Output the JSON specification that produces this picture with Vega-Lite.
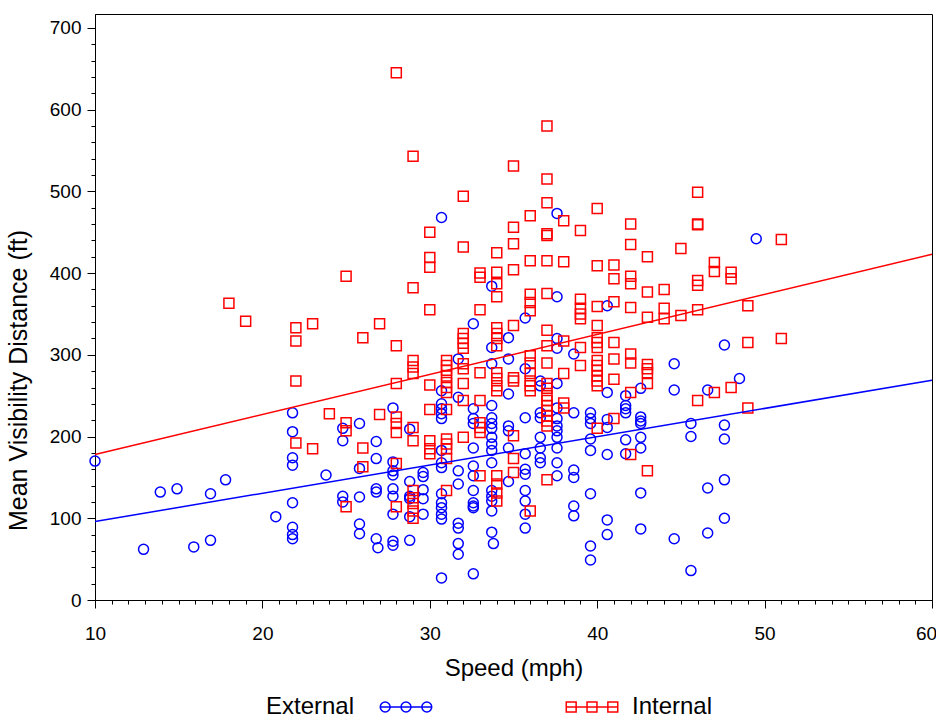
{
  "$schema": "https://vega.github.io/schema/vega-lite/v6.json",
  "width": 837,
  "height": 586,
  "autosize": {"type": "none"},
  "padding": {"left": 95, "top": 14, "right": 4, "bottom": 117},
  "background": "white",
  "datasets": {
    "fit": [
      {"Location": "External", "Speed": 10, "Distance": 96},
      {"Location": "External", "Speed": 60, "Distance": 269},
      {"Location": "Internal", "Speed": 10, "Distance": 178},
      {"Location": "Internal", "Speed": 60, "Distance": 423}
    ],
    "pts": [
      {"Location":"External","Speed":10.0,"Distance":170},
      {"Location":"External","Speed":12.9,"Distance":62},
      {"Location":"External","Speed":13.9,"Distance":132},
      {"Location":"External","Speed":14.9,"Distance":136},
      {"Location":"External","Speed":15.9,"Distance":65},
      {"Location":"External","Speed":16.9,"Distance":130},
      {"Location":"External","Speed":16.9,"Distance":73},
      {"Location":"External","Speed":17.8,"Distance":147},
      {"Location":"External","Speed":20.8,"Distance":102},
      {"Location":"External","Speed":21.8,"Distance":229},
      {"Location":"External","Speed":21.8,"Distance":206},
      {"Location":"External","Speed":21.8,"Distance":174},
      {"Location":"External","Speed":21.8,"Distance":165},
      {"Location":"External","Speed":21.8,"Distance":119},
      {"Location":"External","Speed":21.8,"Distance":89},
      {"Location":"External","Speed":21.8,"Distance":80},
      {"Location":"External","Speed":21.8,"Distance":75},
      {"Location":"External","Speed":23.8,"Distance":153},
      {"Location":"External","Speed":24.8,"Distance":210},
      {"Location":"External","Speed":24.8,"Distance":195},
      {"Location":"External","Speed":24.8,"Distance":127},
      {"Location":"External","Speed":24.8,"Distance":120},
      {"Location":"External","Speed":25.8,"Distance":216},
      {"Location":"External","Speed":25.8,"Distance":161},
      {"Location":"External","Speed":25.8,"Distance":126},
      {"Location":"External","Speed":25.8,"Distance":93},
      {"Location":"External","Speed":25.8,"Distance":81},
      {"Location":"External","Speed":26.8,"Distance":194},
      {"Location":"External","Speed":26.8,"Distance":173},
      {"Location":"External","Speed":26.8,"Distance":136},
      {"Location":"External","Speed":26.8,"Distance":132},
      {"Location":"External","Speed":26.8,"Distance":75},
      {"Location":"External","Speed":26.9,"Distance":64},
      {"Location":"External","Speed":27.8,"Distance":235},
      {"Location":"External","Speed":27.8,"Distance":169},
      {"Location":"External","Speed":27.8,"Distance":158},
      {"Location":"External","Speed":27.8,"Distance":153},
      {"Location":"External","Speed":27.8,"Distance":136},
      {"Location":"External","Speed":27.8,"Distance":127},
      {"Location":"External","Speed":27.8,"Distance":105},
      {"Location":"External","Speed":27.8,"Distance":72},
      {"Location":"External","Speed":27.8,"Distance":67},
      {"Location":"External","Speed":28.8,"Distance":209},
      {"Location":"External","Speed":28.8,"Distance":145},
      {"Location":"External","Speed":28.8,"Distance":127},
      {"Location":"External","Speed":28.8,"Distance":124},
      {"Location":"External","Speed":28.8,"Distance":102},
      {"Location":"External","Speed":28.8,"Distance":73},
      {"Location":"External","Speed":29.6,"Distance":156},
      {"Location":"External","Speed":29.6,"Distance":151},
      {"Location":"External","Speed":29.6,"Distance":135},
      {"Location":"External","Speed":29.6,"Distance":124},
      {"Location":"External","Speed":29.6,"Distance":105},
      {"Location":"External","Speed":30.7,"Distance":468},
      {"Location":"External","Speed":30.7,"Distance":256},
      {"Location":"External","Speed":30.7,"Distance":240},
      {"Location":"External","Speed":30.7,"Distance":234},
      {"Location":"External","Speed":30.7,"Distance":228},
      {"Location":"External","Speed":30.7,"Distance":222},
      {"Location":"External","Speed":30.7,"Distance":183},
      {"Location":"External","Speed":30.7,"Distance":168},
      {"Location":"External","Speed":30.7,"Distance":162},
      {"Location":"External","Speed":30.7,"Distance":130},
      {"Location":"External","Speed":30.7,"Distance":119},
      {"Location":"External","Speed":30.7,"Distance":113},
      {"Location":"External","Speed":30.7,"Distance":105},
      {"Location":"External","Speed":30.7,"Distance":99},
      {"Location":"External","Speed":30.7,"Distance":27},
      {"Location":"External","Speed":31.7,"Distance":295},
      {"Location":"External","Speed":31.7,"Distance":248},
      {"Location":"External","Speed":31.7,"Distance":158},
      {"Location":"External","Speed":31.7,"Distance":142},
      {"Location":"External","Speed":31.7,"Distance":94},
      {"Location":"External","Speed":31.7,"Distance":88},
      {"Location":"External","Speed":31.7,"Distance":69},
      {"Location":"External","Speed":31.7,"Distance":56},
      {"Location":"External","Speed":32.6,"Distance":338},
      {"Location":"External","Speed":32.6,"Distance":234},
      {"Location":"External","Speed":32.6,"Distance":222},
      {"Location":"External","Speed":32.6,"Distance":216},
      {"Location":"External","Speed":32.6,"Distance":186},
      {"Location":"External","Speed":32.6,"Distance":164},
      {"Location":"External","Speed":32.6,"Distance":152},
      {"Location":"External","Speed":32.6,"Distance":134},
      {"Location":"External","Speed":32.6,"Distance":119},
      {"Location":"External","Speed":32.6,"Distance":115},
      {"Location":"External","Speed":32.6,"Distance":113},
      {"Location":"External","Speed":32.6,"Distance":32},
      {"Location":"External","Speed":33.7,"Distance":384},
      {"Location":"External","Speed":33.7,"Distance":309},
      {"Location":"External","Speed":33.7,"Distance":289},
      {"Location":"External","Speed":33.7,"Distance":238},
      {"Location":"External","Speed":33.7,"Distance":223},
      {"Location":"External","Speed":33.7,"Distance":216},
      {"Location":"External","Speed":33.7,"Distance":210},
      {"Location":"External","Speed":33.7,"Distance":199},
      {"Location":"External","Speed":33.7,"Distance":191},
      {"Location":"External","Speed":33.7,"Distance":183},
      {"Location":"External","Speed":33.7,"Distance":168},
      {"Location":"External","Speed":33.7,"Distance":134},
      {"Location":"External","Speed":33.7,"Distance":127},
      {"Location":"External","Speed":33.7,"Distance":121},
      {"Location":"External","Speed":33.7,"Distance":109},
      {"Location":"External","Speed":33.7,"Distance":83},
      {"Location":"External","Speed":33.8,"Distance":69},
      {"Location":"External","Speed":34.7,"Distance":321},
      {"Location":"External","Speed":34.7,"Distance":295},
      {"Location":"External","Speed":34.7,"Distance":252},
      {"Location":"External","Speed":34.7,"Distance":213},
      {"Location":"External","Speed":34.7,"Distance":207},
      {"Location":"External","Speed":34.7,"Distance":186},
      {"Location":"External","Speed":34.7,"Distance":145},
      {"Location":"External","Speed":35.7,"Distance":345},
      {"Location":"External","Speed":35.7,"Distance":283},
      {"Location":"External","Speed":35.7,"Distance":223},
      {"Location":"External","Speed":35.7,"Distance":179},
      {"Location":"External","Speed":35.7,"Distance":160},
      {"Location":"External","Speed":35.7,"Distance":154},
      {"Location":"External","Speed":35.7,"Distance":134},
      {"Location":"External","Speed":35.7,"Distance":121},
      {"Location":"External","Speed":35.7,"Distance":105},
      {"Location":"External","Speed":35.7,"Distance":88},
      {"Location":"External","Speed":36.6,"Distance":268},
      {"Location":"External","Speed":36.6,"Distance":262},
      {"Location":"External","Speed":36.6,"Distance":229},
      {"Location":"External","Speed":36.6,"Distance":223},
      {"Location":"External","Speed":36.6,"Distance":199},
      {"Location":"External","Speed":36.6,"Distance":186},
      {"Location":"External","Speed":36.6,"Distance":174},
      {"Location":"External","Speed":36.6,"Distance":168},
      {"Location":"External","Speed":37.6,"Distance":473},
      {"Location":"External","Speed":37.6,"Distance":371},
      {"Location":"External","Speed":37.6,"Distance":320},
      {"Location":"External","Speed":37.6,"Distance":308},
      {"Location":"External","Speed":37.6,"Distance":265},
      {"Location":"External","Speed":37.6,"Distance":235},
      {"Location":"External","Speed":37.6,"Distance":222},
      {"Location":"External","Speed":37.6,"Distance":213},
      {"Location":"External","Speed":37.6,"Distance":207},
      {"Location":"External","Speed":37.6,"Distance":199},
      {"Location":"External","Speed":37.6,"Distance":186},
      {"Location":"External","Speed":37.6,"Distance":168},
      {"Location":"External","Speed":37.6,"Distance":152},
      {"Location":"External","Speed":38.6,"Distance":301},
      {"Location":"External","Speed":38.6,"Distance":229},
      {"Location":"External","Speed":38.6,"Distance":159},
      {"Location":"External","Speed":38.6,"Distance":150},
      {"Location":"External","Speed":38.6,"Distance":115},
      {"Location":"External","Speed":38.6,"Distance":103},
      {"Location":"External","Speed":39.6,"Distance":229},
      {"Location":"External","Speed":39.6,"Distance":222},
      {"Location":"External","Speed":39.6,"Distance":216},
      {"Location":"External","Speed":39.6,"Distance":197},
      {"Location":"External","Speed":39.6,"Distance":183},
      {"Location":"External","Speed":39.6,"Distance":130},
      {"Location":"External","Speed":39.6,"Distance":66},
      {"Location":"External","Speed":39.6,"Distance":49},
      {"Location":"External","Speed":40.6,"Distance":360},
      {"Location":"External","Speed":40.6,"Distance":254},
      {"Location":"External","Speed":40.6,"Distance":221},
      {"Location":"External","Speed":40.6,"Distance":211},
      {"Location":"External","Speed":40.6,"Distance":178},
      {"Location":"External","Speed":40.6,"Distance":98},
      {"Location":"External","Speed":40.6,"Distance":80},
      {"Location":"External","Speed":41.7,"Distance":250},
      {"Location":"External","Speed":41.7,"Distance":238},
      {"Location":"External","Speed":41.7,"Distance":234},
      {"Location":"External","Speed":41.7,"Distance":229},
      {"Location":"External","Speed":41.7,"Distance":196},
      {"Location":"External","Speed":41.7,"Distance":179},
      {"Location":"External","Speed":42.6,"Distance":259},
      {"Location":"External","Speed":42.6,"Distance":224},
      {"Location":"External","Speed":42.6,"Distance":219},
      {"Location":"External","Speed":42.6,"Distance":216},
      {"Location":"External","Speed":42.6,"Distance":199},
      {"Location":"External","Speed":42.6,"Distance":186},
      {"Location":"External","Speed":42.6,"Distance":131},
      {"Location":"External","Speed":42.6,"Distance":87},
      {"Location":"External","Speed":44.6,"Distance":289},
      {"Location":"External","Speed":44.6,"Distance":257},
      {"Location":"External","Speed":44.6,"Distance":75},
      {"Location":"External","Speed":45.6,"Distance":216},
      {"Location":"External","Speed":45.6,"Distance":200},
      {"Location":"External","Speed":45.6,"Distance":36},
      {"Location":"External","Speed":46.6,"Distance":257},
      {"Location":"External","Speed":46.6,"Distance":137},
      {"Location":"External","Speed":46.6,"Distance":82},
      {"Location":"External","Speed":47.6,"Distance":312},
      {"Location":"External","Speed":47.6,"Distance":214},
      {"Location":"External","Speed":47.6,"Distance":197},
      {"Location":"External","Speed":47.6,"Distance":147},
      {"Location":"External","Speed":47.6,"Distance":100},
      {"Location":"External","Speed":48.5,"Distance":271},
      {"Location":"External","Speed":49.5,"Distance":442},
      {"Location":"Internal","Speed":18,"Distance":363},
      {"Location":"Internal","Speed":19,"Distance":341},
      {"Location":"Internal","Speed":22,"Distance":333},
      {"Location":"Internal","Speed":22,"Distance":317},
      {"Location":"Internal","Speed":22,"Distance":268},
      {"Location":"Internal","Speed":22,"Distance":192},
      {"Location":"Internal","Speed":23,"Distance":338},
      {"Location":"Internal","Speed":23,"Distance":185},
      {"Location":"Internal","Speed":24,"Distance":228},
      {"Location":"Internal","Speed":25,"Distance":396},
      {"Location":"Internal","Speed":25,"Distance":217},
      {"Location":"Internal","Speed":25,"Distance":207},
      {"Location":"Internal","Speed":25,"Distance":114},
      {"Location":"Internal","Speed":26,"Distance":321},
      {"Location":"Internal","Speed":26,"Distance":186},
      {"Location":"Internal","Speed":26,"Distance":163},
      {"Location":"Internal","Speed":27,"Distance":338},
      {"Location":"Internal","Speed":27,"Distance":227},
      {"Location":"Internal","Speed":28,"Distance":645},
      {"Location":"Internal","Speed":28,"Distance":311},
      {"Location":"Internal","Speed":28,"Distance":265},
      {"Location":"Internal","Speed":28,"Distance":224},
      {"Location":"Internal","Speed":28,"Distance":216},
      {"Location":"Internal","Speed":28,"Distance":205},
      {"Location":"Internal","Speed":28,"Distance":167},
      {"Location":"Internal","Speed":28,"Distance":114},
      {"Location":"Internal","Speed":29,"Distance":543},
      {"Location":"Internal","Speed":29,"Distance":382},
      {"Location":"Internal","Speed":29,"Distance":293},
      {"Location":"Internal","Speed":29,"Distance":285},
      {"Location":"Internal","Speed":29,"Distance":277},
      {"Location":"Internal","Speed":29,"Distance":211},
      {"Location":"Internal","Speed":29,"Distance":195},
      {"Location":"Internal","Speed":29,"Distance":134},
      {"Location":"Internal","Speed":29,"Distance":125},
      {"Location":"Internal","Speed":29,"Distance":118},
      {"Location":"Internal","Speed":29,"Distance":109},
      {"Location":"Internal","Speed":29,"Distance":100},
      {"Location":"Internal","Speed":30,"Distance":450},
      {"Location":"Internal","Speed":30,"Distance":419},
      {"Location":"Internal","Speed":30,"Distance":407},
      {"Location":"Internal","Speed":30,"Distance":355},
      {"Location":"Internal","Speed":30,"Distance":263},
      {"Location":"Internal","Speed":30,"Distance":233},
      {"Location":"Internal","Speed":30,"Distance":195},
      {"Location":"Internal","Speed":30,"Distance":185},
      {"Location":"Internal","Speed":30,"Distance":179},
      {"Location":"Internal","Speed":31,"Distance":293},
      {"Location":"Internal","Speed":31,"Distance":287},
      {"Location":"Internal","Speed":31,"Distance":281},
      {"Location":"Internal","Speed":31,"Distance":274},
      {"Location":"Internal","Speed":31,"Distance":266},
      {"Location":"Internal","Speed":31,"Distance":260},
      {"Location":"Internal","Speed":31,"Distance":254},
      {"Location":"Internal","Speed":31,"Distance":233},
      {"Location":"Internal","Speed":31,"Distance":197},
      {"Location":"Internal","Speed":31,"Distance":191},
      {"Location":"Internal","Speed":31,"Distance":185},
      {"Location":"Internal","Speed":31,"Distance":173},
      {"Location":"Internal","Speed":31,"Distance":134},
      {"Location":"Internal","Speed":32,"Distance":494},
      {"Location":"Internal","Speed":32,"Distance":432},
      {"Location":"Internal","Speed":32,"Distance":326},
      {"Location":"Internal","Speed":32,"Distance":320},
      {"Location":"Internal","Speed":32,"Distance":314},
      {"Location":"Internal","Speed":32,"Distance":308},
      {"Location":"Internal","Speed":32,"Distance":289},
      {"Location":"Internal","Speed":32,"Distance":283},
      {"Location":"Internal","Speed":32,"Distance":265},
      {"Location":"Internal","Speed":32,"Distance":244},
      {"Location":"Internal","Speed":32,"Distance":199},
      {"Location":"Internal","Speed":33,"Distance":400},
      {"Location":"Internal","Speed":33,"Distance":395},
      {"Location":"Internal","Speed":33,"Distance":355},
      {"Location":"Internal","Speed":33,"Distance":278},
      {"Location":"Internal","Speed":33,"Distance":244},
      {"Location":"Internal","Speed":33,"Distance":217},
      {"Location":"Internal","Speed":33,"Distance":211},
      {"Location":"Internal","Speed":33,"Distance":205},
      {"Location":"Internal","Speed":33,"Distance":152},
      {"Location":"Internal","Speed":34,"Distance":425},
      {"Location":"Internal","Speed":34,"Distance":401},
      {"Location":"Internal","Speed":34,"Distance":387},
      {"Location":"Internal","Speed":34,"Distance":371},
      {"Location":"Internal","Speed":34,"Distance":333},
      {"Location":"Internal","Speed":34,"Distance":326},
      {"Location":"Internal","Speed":34,"Distance":320},
      {"Location":"Internal","Speed":34,"Distance":311},
      {"Location":"Internal","Speed":34,"Distance":278},
      {"Location":"Internal","Speed":34,"Distance":271},
      {"Location":"Internal","Speed":34,"Distance":262},
      {"Location":"Internal","Speed":34,"Distance":256},
      {"Location":"Internal","Speed":34,"Distance":152},
      {"Location":"Internal","Speed":34,"Distance":142},
      {"Location":"Internal","Speed":34,"Distance":131},
      {"Location":"Internal","Speed":34,"Distance":121},
      {"Location":"Internal","Speed":35,"Distance":531},
      {"Location":"Internal","Speed":35,"Distance":456},
      {"Location":"Internal","Speed":35,"Distance":436},
      {"Location":"Internal","Speed":35,"Distance":404},
      {"Location":"Internal","Speed":35,"Distance":336},
      {"Location":"Internal","Speed":35,"Distance":272},
      {"Location":"Internal","Speed":35,"Distance":268},
      {"Location":"Internal","Speed":35,"Distance":201},
      {"Location":"Internal","Speed":35,"Distance":173},
      {"Location":"Internal","Speed":35,"Distance":156},
      {"Location":"Internal","Speed":36,"Distance":470},
      {"Location":"Internal","Speed":36,"Distance":415},
      {"Location":"Internal","Speed":36,"Distance":374},
      {"Location":"Internal","Speed":36,"Distance":364},
      {"Location":"Internal","Speed":36,"Distance":354},
      {"Location":"Internal","Speed":36,"Distance":299},
      {"Location":"Internal","Speed":36,"Distance":290},
      {"Location":"Internal","Speed":36,"Distance":277},
      {"Location":"Internal","Speed":36,"Distance":268},
      {"Location":"Internal","Speed":36,"Distance":262},
      {"Location":"Internal","Speed":36,"Distance":256},
      {"Location":"Internal","Speed":36,"Distance":109},
      {"Location":"Internal","Speed":37,"Distance":580},
      {"Location":"Internal","Speed":37,"Distance":515},
      {"Location":"Internal","Speed":37,"Distance":486},
      {"Location":"Internal","Speed":37,"Distance":448},
      {"Location":"Internal","Speed":37,"Distance":446},
      {"Location":"Internal","Speed":37,"Distance":415},
      {"Location":"Internal","Speed":37,"Distance":375},
      {"Location":"Internal","Speed":37,"Distance":330},
      {"Location":"Internal","Speed":37,"Distance":311},
      {"Location":"Internal","Speed":37,"Distance":290},
      {"Location":"Internal","Speed":37,"Distance":265},
      {"Location":"Internal","Speed":37,"Distance":259},
      {"Location":"Internal","Speed":37,"Distance":250},
      {"Location":"Internal","Speed":37,"Distance":244},
      {"Location":"Internal","Speed":37,"Distance":238},
      {"Location":"Internal","Speed":37,"Distance":232},
      {"Location":"Internal","Speed":37,"Distance":225},
      {"Location":"Internal","Speed":37,"Distance":219},
      {"Location":"Internal","Speed":37,"Distance":213},
      {"Location":"Internal","Speed":37,"Distance":147},
      {"Location":"Internal","Speed":38,"Distance":464},
      {"Location":"Internal","Speed":38,"Distance":414},
      {"Location":"Internal","Speed":38,"Distance":317},
      {"Location":"Internal","Speed":38,"Distance":277},
      {"Location":"Internal","Speed":38,"Distance":241},
      {"Location":"Internal","Speed":38,"Distance":235},
      {"Location":"Internal","Speed":39,"Distance":452},
      {"Location":"Internal","Speed":39,"Distance":368},
      {"Location":"Internal","Speed":39,"Distance":357},
      {"Location":"Internal","Speed":39,"Distance":350},
      {"Location":"Internal","Speed":39,"Distance":344},
      {"Location":"Internal","Speed":39,"Distance":309},
      {"Location":"Internal","Speed":39,"Distance":287},
      {"Location":"Internal","Speed":40,"Distance":479},
      {"Location":"Internal","Speed":40,"Distance":409},
      {"Location":"Internal","Speed":40,"Distance":359},
      {"Location":"Internal","Speed":40,"Distance":336},
      {"Location":"Internal","Speed":40,"Distance":321},
      {"Location":"Internal","Speed":40,"Distance":315},
      {"Location":"Internal","Speed":40,"Distance":309},
      {"Location":"Internal","Speed":40,"Distance":293},
      {"Location":"Internal","Speed":40,"Distance":287},
      {"Location":"Internal","Speed":40,"Distance":281},
      {"Location":"Internal","Speed":40,"Distance":274},
      {"Location":"Internal","Speed":40,"Distance":268},
      {"Location":"Internal","Speed":40,"Distance":262},
      {"Location":"Internal","Speed":40,"Distance":210},
      {"Location":"Internal","Speed":41,"Distance":410},
      {"Location":"Internal","Speed":41,"Distance":393},
      {"Location":"Internal","Speed":41,"Distance":365},
      {"Location":"Internal","Speed":41,"Distance":315},
      {"Location":"Internal","Speed":41,"Distance":295},
      {"Location":"Internal","Speed":41,"Distance":270},
      {"Location":"Internal","Speed":41,"Distance":222},
      {"Location":"Internal","Speed":42,"Distance":460},
      {"Location":"Internal","Speed":42,"Distance":435},
      {"Location":"Internal","Speed":42,"Distance":396},
      {"Location":"Internal","Speed":42,"Distance":387},
      {"Location":"Internal","Speed":42,"Distance":358},
      {"Location":"Internal","Speed":42,"Distance":301},
      {"Location":"Internal","Speed":42,"Distance":290},
      {"Location":"Internal","Speed":42,"Distance":254},
      {"Location":"Internal","Speed":42,"Distance":178},
      {"Location":"Internal","Speed":43,"Distance":420},
      {"Location":"Internal","Speed":43,"Distance":377},
      {"Location":"Internal","Speed":43,"Distance":346},
      {"Location":"Internal","Speed":43,"Distance":288},
      {"Location":"Internal","Speed":43,"Distance":283},
      {"Location":"Internal","Speed":43,"Distance":278},
      {"Location":"Internal","Speed":43,"Distance":265},
      {"Location":"Internal","Speed":43,"Distance":158},
      {"Location":"Internal","Speed":44,"Distance":380},
      {"Location":"Internal","Speed":44,"Distance":357},
      {"Location":"Internal","Speed":44,"Distance":344},
      {"Location":"Internal","Speed":45,"Distance":430},
      {"Location":"Internal","Speed":45,"Distance":348},
      {"Location":"Internal","Speed":46,"Distance":499},
      {"Location":"Internal","Speed":46,"Distance":460},
      {"Location":"Internal","Speed":46,"Distance":459},
      {"Location":"Internal","Speed":46,"Distance":391},
      {"Location":"Internal","Speed":46,"Distance":385},
      {"Location":"Internal","Speed":46,"Distance":355},
      {"Location":"Internal","Speed":46,"Distance":244},
      {"Location":"Internal","Speed":47,"Distance":413},
      {"Location":"Internal","Speed":47,"Distance":402},
      {"Location":"Internal","Speed":47,"Distance":254},
      {"Location":"Internal","Speed":48,"Distance":401},
      {"Location":"Internal","Speed":48,"Distance":393},
      {"Location":"Internal","Speed":48,"Distance":260},
      {"Location":"Internal","Speed":49,"Distance":360},
      {"Location":"Internal","Speed":49,"Distance":315},
      {"Location":"Internal","Speed":49,"Distance":235},
      {"Location":"Internal","Speed":51,"Distance":441},
      {"Location":"Internal","Speed":51,"Distance":320}
    ]
  },
  "resolve": {"axis": {"x": "independent", "y": "independent"}, "scale": {"shape": "independent"}},
  "layer": [
    {
      "data": {"name": "pts"},
      "mark": {"type": "point", "filled": false, "size": 100, "strokeWidth": 1.5, "opacity": 1},
      "encoding": {
        "x": {
          "field": "Speed", "type": "quantitative",
          "scale": {"domain": [10, 60], "nice": false, "zero": false},
          "axis": {"orient": "bottom", "values": [10, 20, 30, 40, 50, 60], "title": "Speed (mph)", "tickSize": 8, "labelPadding": 16, "titlePadding": 13, "labelFlush": false, "titleFontSize": 24,
            "labelOffset": {"condition": {"test": "datum.value === 60", "value": -6}, "value": 0}}
        },
        "y": {
          "field": "Distance", "type": "quantitative",
          "scale": {"domain": [0, 717], "nice": false, "zero": false},
          "axis": {"orient": "left", "values": [0, 100, 200, 300, 400, 500, 600, 700], "title": "Mean Visibility Distance (ft)", "tickSize": 8, "labelPadding": 6, "titlePadding": 18, "labelFlush": false, "titleFontSize": 25, "titleY": 366}
        },
        "color": {
          "field": "Location", "type": "nominal",
          "scale": {"domain": ["External", "Internal"], "range": ["#0000FF", "#FF0000"]},
          "legend": null
        },
        "shape": {
          "field": "Location", "type": "nominal",
          "scale": {"domain": ["External", "Internal"], "range": ["circle", "square"]},
          "legend": null
        }
      }
    },
    {
      "data": {"name": "fit"},
      "mark": {"type": "line", "strokeWidth": 1.5},
      "encoding": {
        "x": {
          "field": "Speed", "type": "quantitative",
          "axis": {"orient": "bottom", "values": [10,11,12,13,14,15,16,17,18,19,20,21,22,23,24,25,26,27,28,29,30,31,32,33,34,35,36,37,38,39,40,41,42,43,44,45,46,47,48,49,50,51,52,53,54,55,56,57,58,59,60], "labels": false, "tickSize": 4, "domain": false, "title": null}
        },
        "y": {
          "field": "Distance", "type": "quantitative",
          "axis": {"orient": "left", "values": [0,20,40,60,80,100,120,140,160,180,200,220,240,260,280,300,320,340,360,380,400,420,440,460,480,500,520,540,560,580,600,620,640,660,680,700], "labels": false, "tickSize": 4, "domain": false, "title": null}
        },
        "color": {"field": "Location", "type": "nominal", "legend": null},
        "detail": {"field": "Location"}
      }
    },
    {
      "data": {"name": "fit"},
      "transform": [{"filter": "datum.Location === 'External'"}],
      "mark": {"type": "point", "filled": false, "strokeWidth": 1.5, "opacity": 0, "color": "#0000FF"},
      "encoding": {
        "x": {"field": "Speed", "type": "quantitative", "axis": null},
        "y": {"field": "Distance", "type": "quantitative", "axis": null},
        "shape": {
          "field": "Location", "type": "nominal",
          "scale": {"domain": ["External"], "range": ["M-1,0H1M-0.99,0a0.19,0.19 0 1,0 0.38,0a0.19,0.19 0 1,0 -0.38,0M-0.19,0a0.19,0.19 0 1,0 0.38,0a0.19,0.19 0 1,0 -0.38,0M0.61,0a0.19,0.19 0 1,0 0.38,0a0.19,0.19 0 1,0 -0.38,0"]},
          "legend": {
            "orient": "none", "direction": "horizontal",
            "legendX": 171, "legendY": 666,
            "title": "External", "titleOrient": "left", "titleFontSize": 24, "titleFontWeight": "normal", "titleColor": "#000", "titleFont": "Liberation Sans", "titlePadding": 24, "titleBaseline": "line-top", "titleLineHeight": 14, "titleAnchor": "middle",
            "labelExpr": "''",
            "labelFontSize": 24, "labelFont": "Liberation Sans", "labelColor": "#000", "labelOffset": 15,
            "symbolSize": 2704, "symbolStrokeWidth": 1.5, "symbolOpacity": 1, "symbolStrokeColor": "#0000FF", "symbolFillColor": "transparent"
          }
        }
      }
    },
    {
      "data": {"name": "fit"},
      "transform": [{"filter": "datum.Location === 'Internal'"}],
      "mark": {"type": "point", "filled": false, "strokeWidth": 1.5, "opacity": 0, "color": "#FF0000"},
      "encoding": {
        "x": {"field": "Speed", "type": "quantitative", "axis": null},
        "y": {"field": "Distance", "type": "quantitative", "axis": null},
        "shape": {
          "field": "Location", "type": "nominal",
          "scale": {"domain": ["Internal"], "range": ["M-1,0H1M-0.99,-0.19h0.38v0.38h-0.38zM-0.19,-0.19h0.38v0.38h-0.38zM0.61,-0.19h0.38v0.38h-0.38z"]},
          "legend": {
            "orient": "none", "direction": "horizontal",
            "legendX": 470, "legendY": 666,
            "title": null,
            "labelFontSize": 24, "labelFont": "Liberation Sans", "labelColor": "#000", "labelOffset": 13,
            "symbolSize": 2704, "symbolStrokeWidth": 1.5, "symbolOpacity": 1, "symbolStrokeColor": "#FF0000", "symbolFillColor": "transparent"
          }
        }
      }
    }
  ],
  "config": {
    "font": "Liberation Sans",
    "view": {"stroke": "#000", "strokeWidth": 1},
    "axis": {
      "grid": false, "domainColor": "#000", "tickColor": "#000", "labelColor": "#000", "titleColor": "#000",
      "labelFont": "Liberation Sans", "titleFont": "Liberation Sans", "labelFontSize": 19, "titleFontSize": 24, "titleFontWeight": "normal", "domainWidth": 1, "tickWidth": 1
    }
  }
}
